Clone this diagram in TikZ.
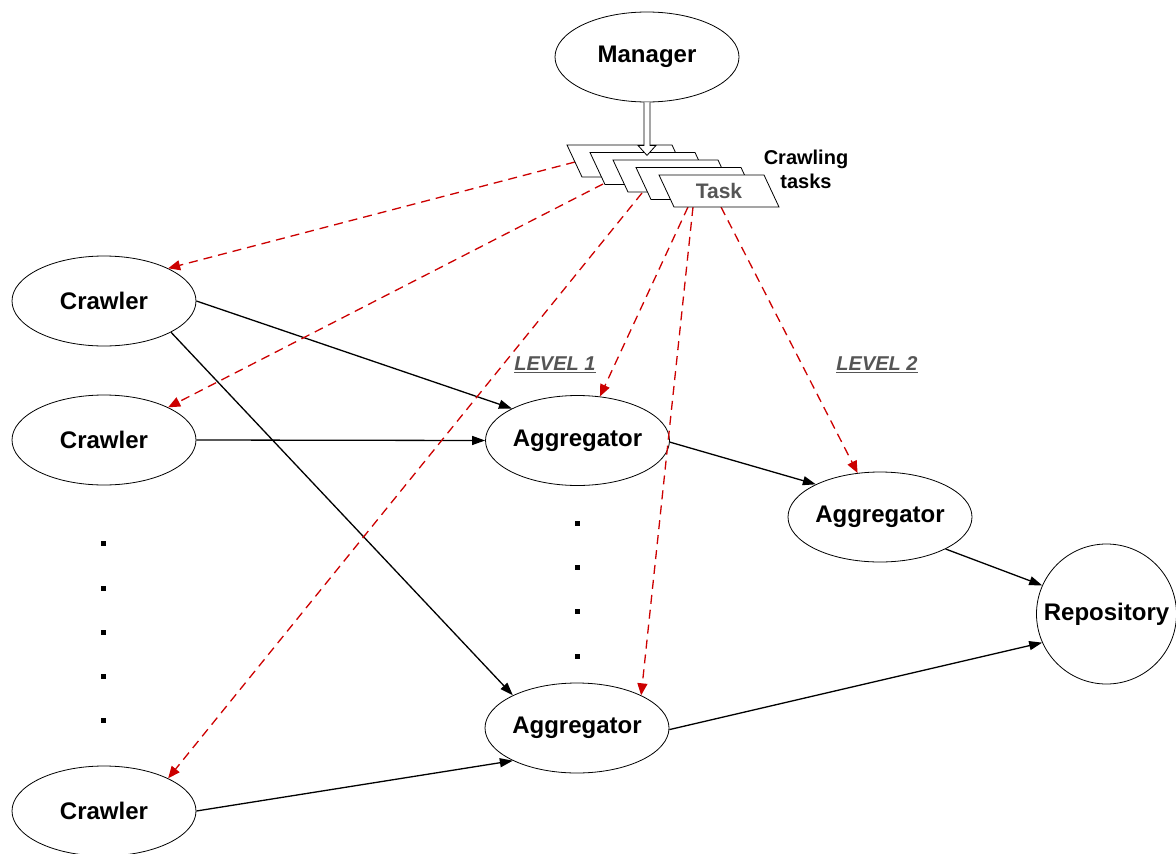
\documentclass[tikz,border=0pt]{standalone}
\usepackage{fontspec}
\setmainfont{Liberation Sans}
\usetikzlibrary{arrows.meta,shapes.geometric}
\definecolor{dashred}{HTML}{CC0000}
\definecolor{labelgray}{HTML}{555555}

\begin{document}
\begin{tikzpicture}[x=1pt,y=-1pt,
  unit/.style={ellipse, draw, line width=0.8pt, minimum width=184pt, minimum height=90pt,
    inner sep=0pt, font=\fontsize{24}{28}\selectfont\bfseries},
  store/.style={circle, draw, line width=0.8pt, minimum size=140pt, inner sep=0pt,
    font=\fontsize{24}{28}\selectfont\bfseries},
  flow/.style={line width=1.3pt, -{Triangle[length=13pt,width=9pt]}},
  assign/.style={dashred, line width=1.3pt, dash pattern=on 9pt off 6pt,
    -{Triangle[length=12pt,width=10pt]}},
  taskcard/.style={line width=0.8pt, fill=white},
  levellabel/.style={text=labelgray, font=\fontsize{20}{24}\selectfont\bfseries\itshape},
  dot/.style={fill=black}]

\useasboundingbox (0,0) rectangle (1176,854);

% processes
\node[unit] (man) at (647,57) {Manager};
\node[unit] (c1) at (104,301) {Crawler};
\node[unit] (c2) at (104,440) {Crawler};
\node[unit] (c3) at (104,811) {Crawler};
\node[unit] (a1) at (577.5,440.5) {Aggregator};
\node[unit] (a2) at (577,728) {Aggregator};
\node[unit] (l2) at (880,517) {Aggregator};
\node[store] (repo) at (1106.5,614) {Repository};

% elided crawlers and aggregators
\foreach \y in {543,588,632,676,720} \fill[dot] (101,\y-2.5) rectangle ++(5,5);
\foreach \y in {523,567,611,656} \fill[dot] (575,\y-2.5) rectangle ++(5,5);

% level labels
\node[levellabel] (lev1) at (555,365) {\underline{LEVEL 1}};
\node[levellabel] (lev2) at (877,365) {\underline{LEVEL 2}};

% data flow
\draw[flow] (c1.east) -- (a1.154);
\draw[flow] (c1.-25) -- (a2.153);
\draw[flow] (c2.east) -- (a1.west);
\draw[flow] (c3.east) -- (a2.-153);
\draw[flow] (a1.-1) -- (l2.153);
\draw[flow] (l2.-26) -- (repo.156);
\draw[flow] (a2.-1.5) -- (repo.-156);

% task assignment
\coordinate (s1) at (575,162);
\coordinate (s2) at (603,184);
\coordinate (s3) at (642,193);
\coordinate (s4) at (688,207);
\coordinate (s5) at (693,207);
\coordinate (s6) at (721,207);
\draw[assign] (s1) -- (c1.27);
\draw[assign] (s2) -- (c2.27);
\draw[assign] (s3) -- (c3.27);
\draw[assign] (s4) -- (a1.63);
\draw[assign] (s5) -- (a2.27);
\draw[assign] (s6) -- (l2.117.6);

% stack of task cards
\foreach \i in {0,...,4}
  \draw[taskcard] ({567+23*\i},{145+7.5*\i}) -- ++(105,0) -- ++(15,32) -- ++(-105,0) -- cycle;
\node[text=labelgray, font=\fontsize{21}{24}\selectfont\bfseries] (task) at (719,191) {Task};
\node[align=center, font=\fontsize{20}{24}\selectfont\bfseries] (tasks) at (806,169) {Crawling\\tasks};

% hollow arrow from the manager to the cards
\draw[line width=0.8pt, fill=white] ([xshift=-3pt]man.south) -- ++(0,43) -- ++(-6,0)
  -- ++(9,10) -- ++(9,-10) -- ++(-6,0) -- ([xshift=3pt]man.south);

\end{tikzpicture}
\end{document}
